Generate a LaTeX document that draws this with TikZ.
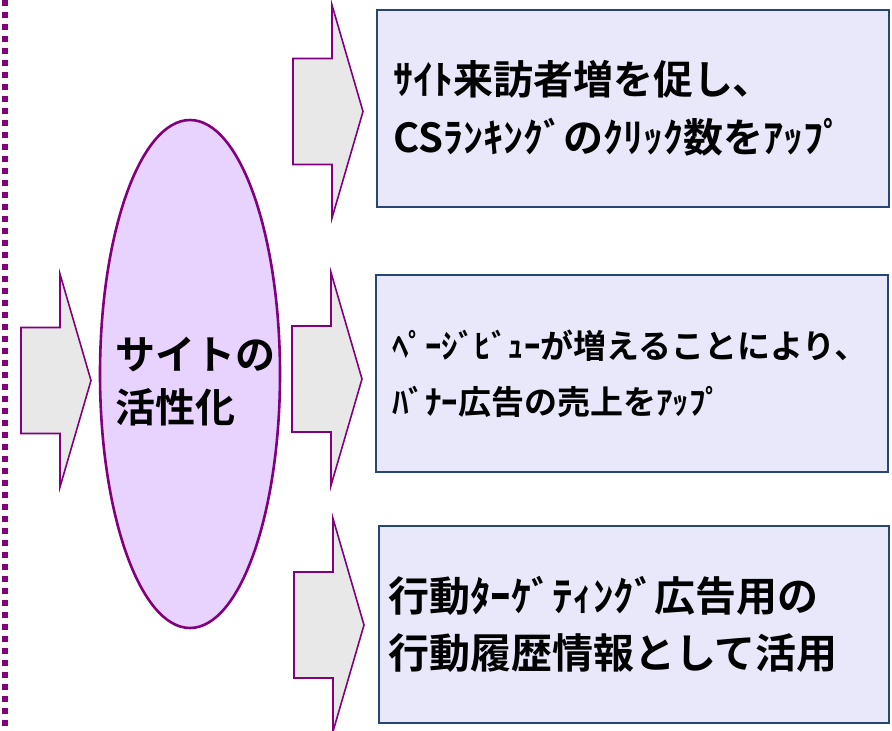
\documentclass[tikz,border=0pt]{standalone}
\usepackage{fontspec}
\newfontfamily\jpfont{Noto Sans CJK JP}[BoldFont={Noto Sans CJK JP Bold}]
\usetikzlibrary{shapes.geometric}
\definecolor{arrowpurple}{RGB}{128,0,128}
\definecolor{arrowfill}{RGB}{232,232,232}
\definecolor{ellfill}{RGB}{232,210,254}
\definecolor{boxfill}{RGB}{232,232,250}
\definecolor{boxline}{RGB}{38,70,118}
\tikzset{
  blockarrowstyle/.style={draw=arrowpurple, fill=arrowfill, line width=1.6pt, line join=miter},
  blockarrow/.pic={\path[blockarrowstyle] (0,0) -- (-31,-106.5) -- (-31,-53) -- (-70,-53) -- (-70,53) -- (-31,53) -- (-31,106.5) -- cycle;},
  infobox/.style={draw=boxline, fill=boxfill, line width=1.8pt, rectangle, minimum height=197pt, align=left, inner ysep=0pt},
  centerell/.style={draw=arrowpurple, fill=ellfill, line width=2.6pt, ellipse, minimum width=180pt, minimum height=508pt, inner sep=0pt},
}
\begin{document}
\begin{tikzpicture}[x=1pt, y=-1pt]
\useasboundingbox (0,0) rectangle (892,731);
% dotted border line
\coordinate (dtop) at (5,0);
\coordinate (dbot) at (5,731);
\draw[arrowpurple, line width=5.5pt, dash pattern=on 5.5pt off 6.5pt] (dtop) -- (dbot);
% block arrows
\pic (aleft) at (91,380.5) {blockarrow};
\pic (atop) at (363,111.5) {blockarrow};
\pic (amid) at (362,379) {blockarrow};
\pic (abot) at (364,625) {blockarrow};
% central ellipse
\node[centerell] (ell) at (190,374) {};
\node[align=left, inner sep=0pt, font=\jpfont\bfseries\fontsize{40}{53}\selectfont] (elltext) at (195,382) {サイトの\\活性化};
% boxes
\node[infobox, inner xsep=16pt, text width=480pt, font=\jpfont\bfseries\fontsize{40}{58}\selectfont] (box1) at (633,108.5) {ｻｲﾄ来訪者増を促し､\\CSﾗﾝｷﾝｸﾞのｸﾘｯｸ数をｱｯﾌﾟ};
\node[infobox, inner xsep=16pt, text width=480pt, font=\jpfont\bfseries\fontsize{33}{56}\selectfont] (box2) at (632,373.5) {ﾍﾟｰｼﾞﾋﾞｭｰが増えることにより､\\ﾊﾞﾅｰ広告の売上をｱｯﾌﾟ};
\node[infobox, inner xsep=9pt, text width=492pt, font=\jpfont\bfseries\fontsize{41}{57}\selectfont] (box3) at (634,624.5) {行動ﾀｰｹﾞﾃｨﾝｸﾞ広告用の\\行動履歴情報として活用};
\end{tikzpicture}
\end{document}
